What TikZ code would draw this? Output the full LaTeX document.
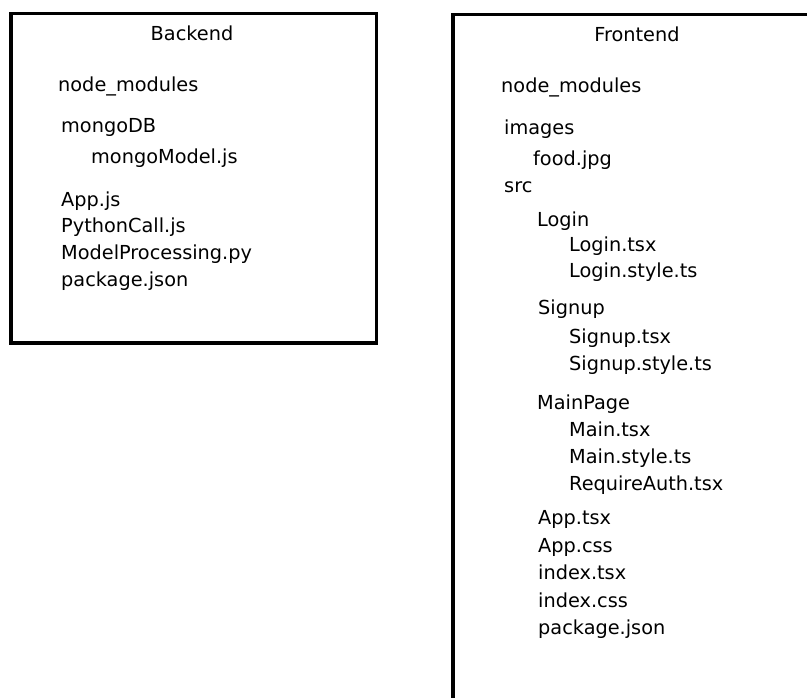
\documentclass[tikz,border=0pt]{standalone}
\usepackage{fontspec}
\setmainfont{DejaVu Sans}
\begin{document}
\begin{tikzpicture}[x=1pt,y=-1pt,
  item/.style={anchor=base west,inner sep=0pt,font=\fontsize{19.3}{23}\selectfont},
  title/.style={anchor=base,inner sep=0pt,font=\fontsize{19.3}{23}\selectfont},
  boxline/.style={draw=black,line width=3.2pt}]
\useasboundingbox (0,0) rectangle (807,698);
\clip (0,0) rectangle (807,698);
% Backend box
\draw[boxline] (11,13.5) rectangle (376.5,343);
\node[title] (bt) at (192,41) {Backend};
\node[item] (bnm) at (58,92) {node\_modules};
\node[item] (bdb) at (61,133) {mongoDB};
\node[item] (bmm) at (91,164) {mongoModel.js};
\node[item] (bapp) at (61,207) {App.js};
\node[item] (bpc) at (61,233) {PythonCall.js};
\node[item] (bmp) at (61,260) {ModelProcessing.py};
\node[item] (bpk) at (61,287) {package.json};
% Frontend box
\draw[boxline] (453,14.5) rectangle (840,730);
\node[title] (ft) at (637,42) {Frontend};
\node[item] (fnm) at (501,93) {node\_modules};
\node[item] (fim) at (504,135) {images};
\node[item] (ffd) at (533,166) {food.jpg};
\node[item] (fsrc) at (504,193) {src};
\node[item] (flg) at (537,227) {Login};
\node[item] (flgt) at (569,252) {Login.tsx};
\node[item] (flgs) at (569,278) {Login.style.ts};
\node[item] (fsu) at (538,315) {Signup};
\node[item] (fsut) at (569,343) {Signup.tsx};
\node[item] (fsus) at (569,370) {Signup.style.ts};
\node[item] (fmp) at (537,409) {MainPage};
\node[item] (fmt) at (569,436) {Main.tsx};
\node[item] (fms) at (569,463) {Main.style.ts};
\node[item] (fra) at (569,490) {RequireAuth.tsx};
\node[item] (fat) at (538,524) {App.tsx};
\node[item] (fac) at (538,552) {App.css};
\node[item] (fit) at (538,579) {index.tsx};
\node[item] (fic) at (538,607) {index.css};
\node[item] (fpk) at (538,634) {package.json};
\end{tikzpicture}
\end{document}
